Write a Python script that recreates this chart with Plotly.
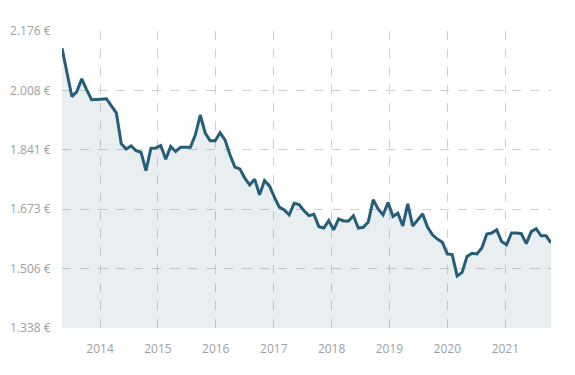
import pandas as pd
import plotly.graph_objects as go

# Price per unit (EUR), roughly monthly samples from May 2013 to Oct 2021
prices = [
    2.127, 2.059, 1.991, 2.005, 2.041, 2.010, 1.982, 1.983, 1.984, 1.985,
    1.965, 1.945, 1.858, 1.843, 1.852, 1.838, 1.834, 1.782, 1.845, 1.846,
    1.853, 1.814, 1.850, 1.836, 1.848, 1.848, 1.848, 1.883, 1.939, 1.888,
    1.866, 1.866, 1.889, 1.869, 1.827, 1.792, 1.787, 1.761, 1.742, 1.758,
    1.714, 1.754, 1.739, 1.707, 1.679, 1.671, 1.657, 1.690, 1.686, 1.669,
    1.655, 1.659, 1.624, 1.620, 1.641, 1.615, 1.646, 1.640, 1.640, 1.655,
    1.620, 1.622, 1.637, 1.700, 1.674, 1.657, 1.692, 1.653, 1.662, 1.626,
    1.688, 1.626, 1.643, 1.660, 1.623, 1.601, 1.589, 1.580, 1.547, 1.545,
    1.485, 1.495, 1.540, 1.549, 1.547, 1.564, 1.603, 1.606, 1.615, 1.582,
    1.573, 1.606, 1.606, 1.604, 1.576, 1.610, 1.618, 1.598, 1.598, 1.578,
]
start_date = "2013-05-06"
end_date = "2021-10-16"
dates = pd.date_range(start_date, end_date, periods=len(prices))

y_tick_vals = [1.338, 1.5056, 1.6732, 1.8408, 2.0084, 2.176]
y_tick_text = ["1.338 €", "1.506 €", "1.673 €", "1.841 €", "2.008 €", "2.176 €"]
years = ["2014", "2015", "2016", "2017", "2018", "2019", "2020", "2021"]

line_color = "#255e78"
grid_color = "#d0d0d0"
label_color = "#a0a0a0"

fig = go.Figure()
fig.add_trace(go.Scatter(
    x=dates, y=prices, mode="lines",
    line=dict(color=line_color, width=3),
    fill="tozeroy", fillcolor="rgba(37,94,120,0.1)",
    hoverinfo="x+y",
))

fig.update_layout(
    width=567, height=367,
    margin=dict(l=54, r=24, t=23, b=47, autoexpand=False),
    paper_bgcolor="white", plot_bgcolor="white",
    showlegend=False,
    font=dict(family="Open Sans, Noto Sans, sans-serif", size=12, color=label_color),
    xaxis=dict(
        type="date",
        range=[dates[0], dates[-1]],
        tickvals=[f"{y}-01-01" for y in years],
        ticktext=years,
        showgrid=True, gridcolor=grid_color, griddash="dash", gridwidth=1,
        zeroline=False, showline=False,
        ticks="outside", ticklen=10, tickcolor="rgba(0,0,0,0)",
        tickfont=dict(size=12, color=label_color),
    ),
    yaxis=dict(
        range=[1.338, 2.176],
        tickvals=y_tick_vals, ticktext=y_tick_text,
        showgrid=True, gridcolor=grid_color, griddash="dash", gridwidth=1,
        zeroline=False, showline=False,
        ticks="outside", ticklen=8, tickcolor="rgba(0,0,0,0)",
        tickfont=dict(size=12, color=label_color),
    ),
)

fig.write_html("out.html")
